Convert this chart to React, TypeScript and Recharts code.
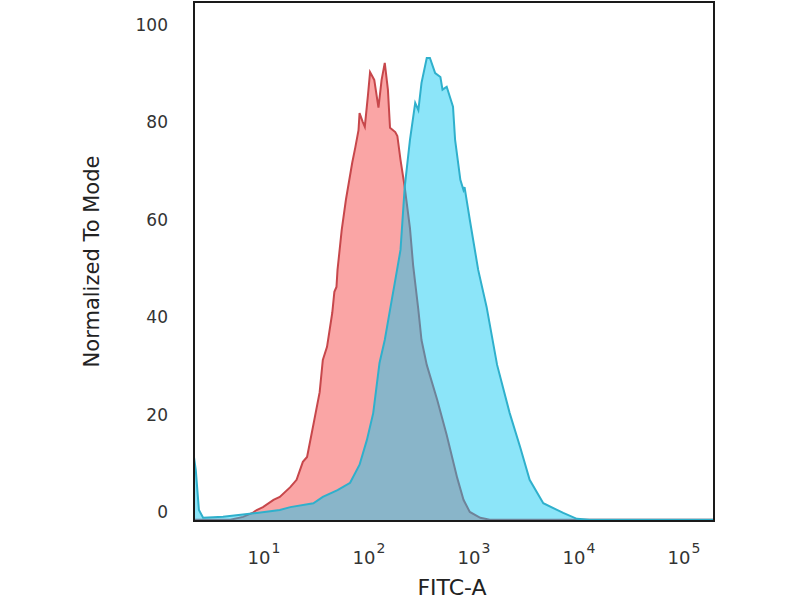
import React from 'react';
import { ComposedChart, Area, XAxis, YAxis, ReferenceArea } from 'recharts';

// FITC-A in log10 decades, values are % of mode
const RED_X = [
  0.33, 0.68, 0.8, 0.89, 0.93, 0.99, 1.09, 1.15, 1.25, 1.31, 1.37, 1.41, 1.47, 1.53, 1.56, 1.6, 1.65,
  1.67, 1.69, 1.7, 1.74, 1.78, 1.84, 1.87, 1.9, 1.91, 1.94, 1.96, 1.99, 2.01, 2.05, 2.09, 2.12, 2.15,
  2.18, 2.2, 2.25, 2.27, 2.3, 2.34, 2.39, 2.42, 2.47, 2.5, 2.55, 2.65, 2.74, 2.84, 2.9, 2.96, 3.06,
  3.15, 5.28,
];
const RED_Y = [
  -1.6, -1.6, -1.0, -0.2, 0.4, 1.0, 2.5, 3.1, 5.1, 6.6, 10.3, 11.3, 17.9, 24.6, 31.2, 33.9, 40.9,
  45.2, 46.2, 49.7, 57.9, 64.1, 71.7, 74.9, 78.4, 81.9, 80.1, 79.1, 85.6, 90.3, 88.7, 83.0, 88.7, 92.2,
  86.7, 78.9, 78.0, 77.2, 72.3, 66.7, 58.3, 50.7, 41.5, 35.3, 30.2, 23.0, 15.8, 7.0, 2.5, 0.0, -1.2,
  -1.6, -1.6,
];
const BLUE_X = [
  0.33, 0.35, 0.38, 0.42, 0.61, 0.93, 1.15, 1.25, 1.47, 1.56, 1.7, 1.82, 1.91, 1.98, 2.04, 2.1, 2.15,
  2.2, 2.25, 2.3, 2.34, 2.39, 2.44, 2.47, 2.5, 2.55, 2.58, 2.63, 2.68, 2.7, 2.74, 2.8, 2.82, 2.87, 2.9,
  2.91, 2.96, 3.04, 3.12, 3.22, 3.34, 3.44, 3.53, 3.66, 3.85, 3.98, 4.1, 5.28,
];
const BLUE_Y = [
  11.7, 8.6, 0.4, -1.2, -1.0, -0.2, 0.4, 1.0, 1.8, 3.1, 4.5, 6.0, 9.7, 14.8, 20.3, 30.6, 35.3,
  41.5, 47.6, 53.8, 66.7, 76.4, 84.0, 82.5, 88.1, 93.2, 93.2, 90.1, 89.3, 86.7, 87.3, 83.2, 76.4, 68.2, 66.1,
  66.7, 60.0, 49.7, 42.1, 30.2, 20.3, 13.3, 6.6, 1.8, -0.2, -1.4, -1.6, -1.6,
];
const Y_TICKS = [0, 20, 40, 60, 80, 100];
const X_DECADES = [1, 2, 3, 4, 5];

const X_DOMAIN: [number, number] = [0.333, 5.286];
const Y_DOMAIN: [number, number] = [-1.85, 104.7];

const FONT = '"DejaVu Sans", Verdana, sans-serif';

// one table sorted by x; each series keeps nulls where the other one has a point
const rows: { x: number; red: number | null; blue: number | null }[] = [];
RED_X.forEach((x, i) => rows.push({ x, red: RED_Y[i], blue: null }));
BLUE_X.forEach((x, i) => rows.push({ x, red: null, blue: BLUE_Y[i] }));
rows.sort((a, b) => a.x - b.x);

function DecadeTick({ x, y, payload }: any) {
  return (
    <text x={x} y={y + 43} textAnchor="middle" fill="#333" fontFamily={FONT} fontSize={18}>
      <tspan>10</tspan>
      <tspan fontSize={14} dx={1} dy={-11}>
        {payload.value}
      </tspan>
    </text>
  );
}

function YTitle({ viewBox }: any) {
  const cx = viewBox.x + 92;
  const cy = viewBox.y + viewBox.height / 2;
  return (
    <text
      x={cx}
      y={cy}
      transform={`rotate(-90, ${cx}, ${cy})`}
      textAnchor="middle"
      dominantBaseline="central"
      fill="#222"
      fontFamily={FONT}
      fontSize={21}
    >
      Normalized To Mode
    </text>
  );
}

function XTitle({ viewBox }: any) {
  return (
    <text
      x={viewBox.x + viewBox.width / 2 - 2}
      y={viewBox.y + 74}
      textAnchor="middle"
      fill="#222"
      fontFamily={FONT}
      fontSize={22}
    >
      FITC-A
    </text>
  );
}

export default function App() {
  return (
    <div style={{ position: 'absolute', left: 0, top: 0, width: 800, height: 600, background: '#fff' }}>
      <ComposedChart width={800} height={600} data={rows} margin={{ top: 2, right: 86, bottom: 0, left: 0 }}>
        <XAxis
          dataKey="x"
          type="number"
          domain={X_DOMAIN}
          ticks={X_DECADES}
          allowDataOverflow
          height={79}
          tickLine={false}
          axisLine={false}
          tick={<DecadeTick />}
          tickSize={0}
          tickMargin={0}
          label={<XTitle />}
        />
        <YAxis
          type="number"
          domain={Y_DOMAIN}
          ticks={Y_TICKS}
          allowDataOverflow
          width={194}
          tickLine={false}
          axisLine={false}
          tickSize={0}
          tickMargin={26}
          tick={{ fill: '#333', fontSize: 17, fontFamily: FONT }}
          label={<YTitle />}
        />
        <Area
          dataKey="red"
          type="linear"
          connectNulls
          baseValue="dataMin"
          stroke="#c7474b"
          strokeWidth={2}
          fill="#faa5a5"
          fillOpacity={1}
          isAnimationActive={false}
          dot={false}
          activeDot={false}
        />
        <Area
          dataKey="blue"
          type="linear"
          connectNulls
          baseValue="dataMin"
          stroke="#2fb0cc"
          strokeWidth={2}
          fill="#0bc8f3"
          fillOpacity={0.47}
          isAnimationActive={false}
          dot={false}
          activeDot={false}
        />
        <ReferenceArea
          x1={X_DOMAIN[0]}
          x2={X_DOMAIN[1]}
          y1={Y_DOMAIN[0]}
          y2={Y_DOMAIN[1]}
          fill="none"
          stroke="#1a1a1a"
          strokeWidth={2}
          ifOverflow="visible"
        />
      </ComposedChart>
    </div>
  );
}
